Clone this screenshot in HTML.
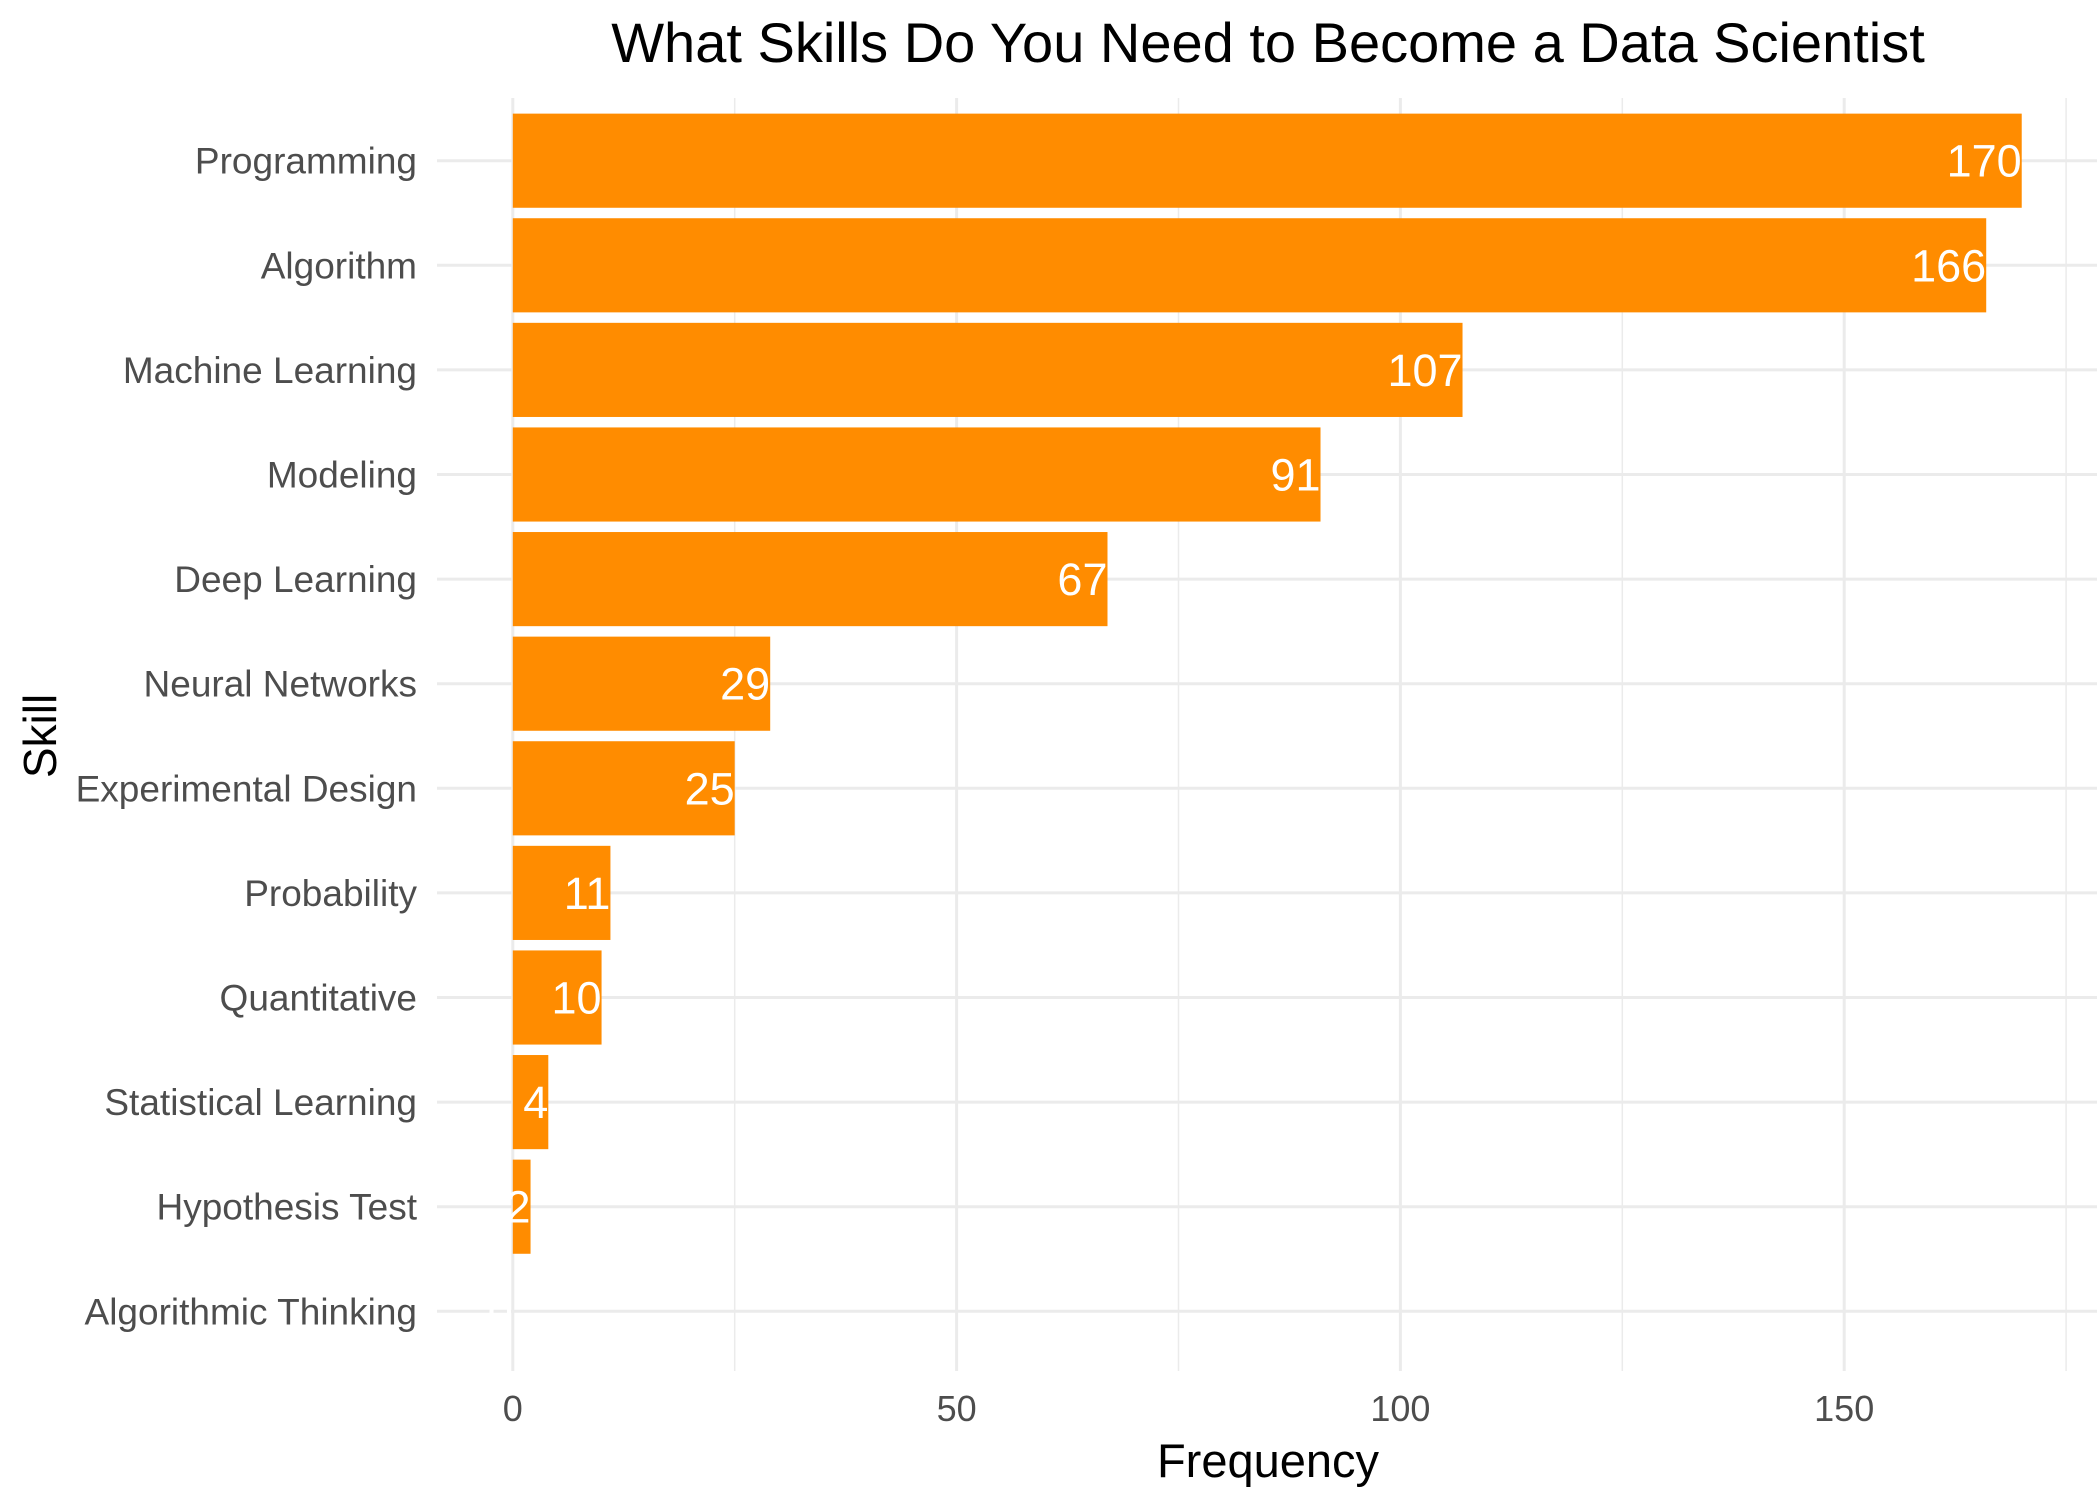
<!DOCTYPE html>
<html><head><meta charset="utf-8"><style>
html,body{margin:0;padding:0;background:#fff;}
svg{display:block;font-family:"Liberation Sans",Arial,sans-serif;}
</style></head><body>
<svg id="chart" width="2100" height="1499" viewBox="0 0 2100 1499">
<text x="1268" y="62" text-anchor="middle" font-size="56" fill="#000">What Skills Do You Need to Become a Data Scientist</text>
<g id="grid"></g>
<g id="bars"></g>
<g id="ylabels"></g>
<g id="xlabels"></g>
<text x="1268" y="1477" text-anchor="middle" font-size="47" fill="#000">Frequency</text>
<text transform="translate(56,736) rotate(-90)" text-anchor="middle" font-size="46" fill="#000">Skill</text>
</svg>
<script>
const categories = ["Programming","Algorithm","Machine Learning","Modeling","Deep Learning","Neural Networks","Experimental Design","Probability","Quantitative","Statistical Learning","Hypothesis Test","Algorithmic Thinking"];
const values = [170,166,107,91,67,29,25,11,10,4,2,0];
const majorTicks = [0,50,100,150];
const minorTicks = [25,75,125,175];

const NS="http://www.w3.org/2000/svg";
const x0=512.8, pxPerUnit=8.876, panelL=437, panelR=2097, panelT=98, panelB=1371;
const rowTop=160.7, rowStep=104.6;
const xs=v=>x0+v*pxPerUnit;
const ys=i=>rowTop+i*rowStep;
function mk(tag,attrs,parent){const e=document.createElementNS(NS,tag);for(const k in attrs)e.setAttribute(k,attrs[k]);parent.appendChild(e);return e;}
const grid=document.getElementById('grid'),bars=document.getElementById('bars'),yl=document.getElementById('ylabels'),xl=document.getElementById('xlabels');
minorTicks.forEach(t=>{const l=mk('line',{x1:xs(t),x2:xs(t),y1:panelT,y2:panelB,stroke:'#ebebeb','stroke-width':1.5},grid);

});
majorTicks.forEach(t=>{const l=mk('line',{x1:xs(t),x2:xs(t),y1:panelT,y2:panelB,stroke:'#ebebeb','stroke-width':3},grid);


const tx=mk('text',{x:xs(t),y:1421,'text-anchor':'middle','font-size':36,fill:'#4d4d4d'},xl);tx.textContent=t;

});
categories.forEach((c,i)=>{const l=mk('line',{x1:panelL,x2:panelR,y1:ys(i),y2:ys(i),stroke:'#ebebeb','stroke-width':3},grid);


const tx=mk('text',{x:417,y:ys(i)+13,'text-anchor':'end','font-size':37,fill:'#4d4d4d'},yl);tx.textContent=c;

});
const bh=rowStep*0.9;
categories.forEach((c,i)=>{const v=values[i];
const r=mk('rect',{x:xs(0),y:ys(i)-bh/2,width:Math.max(0,xs(v)-xs(0)),height:bh,fill:'#ff8c00'},bars);


const t=mk('text',{x:xs(v),y:ys(i)+16,'text-anchor':'end','font-size':45,fill:'#fff'},bars);t.textContent=v;

});
</script>
</body></html>
